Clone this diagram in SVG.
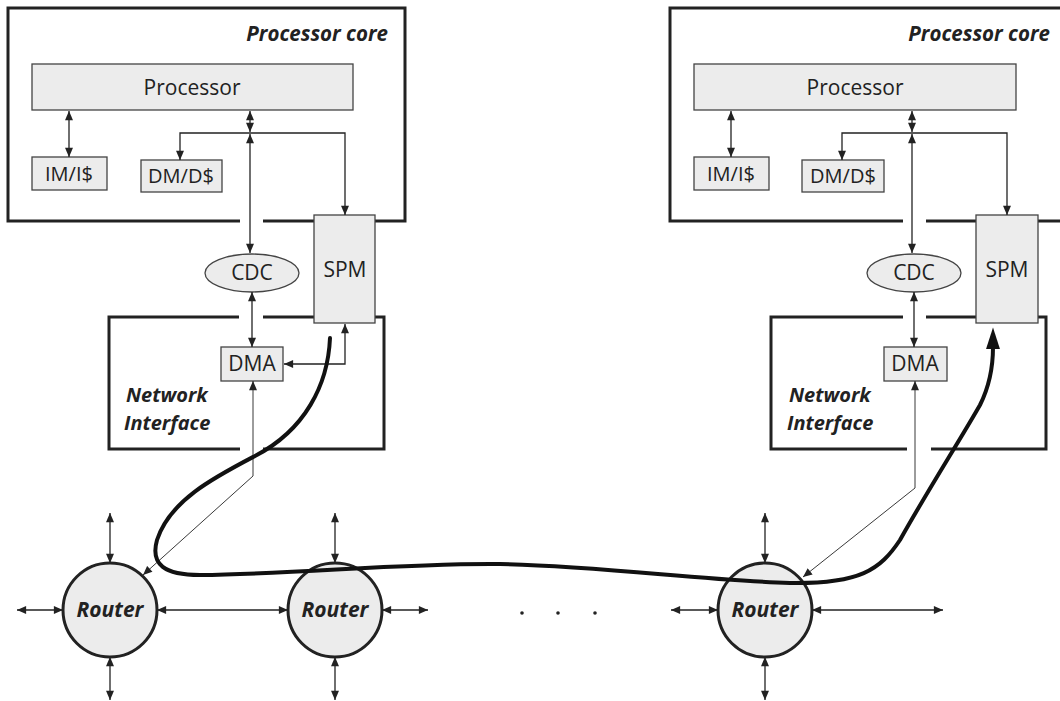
<svg xmlns="http://www.w3.org/2000/svg" width="1060" height="701" viewBox="0 0 1060 701">
<defs>
<style>
.frame{fill:none;stroke:#222;stroke-width:3}
.box{fill:#ececec;stroke:#444;stroke-width:1.3}
.router{fill:#ececec;stroke:#222;stroke-width:3}
.t{font-family:"Open Sans","Noto Sans",sans-serif;fill:#222}
.lbl{font-size:21px;text-anchor:middle}
.sm{font-size:20px}
.title{font-size:20.5px;font-weight:bold;font-style:italic}
.ni{font-size:20px;font-weight:bold;font-style:italic}
.rt{font-size:21px;font-weight:bold;font-style:italic;text-anchor:middle}
.ln{fill:none;stroke:#222;stroke-width:1.3;marker-start:url(#ah);marker-end:url(#ah)}
.thin{fill:none;stroke:#222;stroke-width:0.9;marker-start:url(#ah);marker-end:url(#ah)}
.path{fill:none;stroke:#111;stroke-width:4;stroke-linecap:round;marker-end:url(#big)}
</style>
<marker id="ah" markerUnits="userSpaceOnUse" markerWidth="10" markerHeight="8" refX="8" refY="3.5" orient="auto-start-reverse" viewBox="0 0 8 7">
<path d="M0,0 L8,3.5 L0,7 z" fill="#222"/>
</marker>
<marker id="big" markerUnits="userSpaceOnUse" markerWidth="22" markerHeight="14" refX="2" refY="6.5" orient="auto" viewBox="0 0 20 13">
<path d="M0,0 L20,6.5 L0,13 z" fill="#111"/>
</marker>
</defs>
<rect width="1060" height="701" fill="#fff"/>

<g id="core-left">
<path class="frame" d="M240,221 H8 V8 H405 V221 H263"/>
<text class="t title" x="388" y="41" text-anchor="end">Processor core</text>
</g>
<g id="core-right">
<path class="frame" d="M903,221 H670 V8 H1068 V221 H926"/>
<text class="t title" x="1050" y="41" text-anchor="end">Processor core</text>
</g>
<g id="ni-left">
<path class="frame" d="M239,317 H109 V449 H240 M263,449 H384 V317 H263"/>
<text class="t ni" x="126" y="402">Network</text>
<text class="t ni" x="124" y="430">Interface</text>
</g>
<g id="ni-right">
<path class="frame" d="M903,317 H771 V449 H907 M931,449 H1046 V317 H926"/>
<text class="t ni" x="789" y="402">Network</text>
<text class="t ni" x="787" y="430">Interface</text>
</g>

<g id="processor-left"><rect class="box" x="32" y="64" width="321" height="46"/><text class="t lbl" x="192" y="95">Processor</text></g>
<g id="im-left"><rect class="box" x="32" y="157" width="75" height="33"/><text class="t lbl sm" x="69" y="181">IM/I$</text></g>
<g id="dm-left"><rect class="box" x="141" y="160" width="81" height="32"/><text class="t lbl sm" x="181" y="183">DM/D$</text></g>
<g id="spm-left"><rect class="box" x="314" y="215" width="61" height="108"/><text class="t lbl" x="345" y="277">SPM</text></g>
<g id="cdc-left"><ellipse class="box" cx="252" cy="273" rx="47" ry="19"/><text class="t lbl" x="252" y="280">CDC</text></g>
<g id="dma-left"><rect class="box" x="221" y="347" width="62" height="34"/><text class="t lbl" x="252" y="371">DMA</text></g>

<g id="processor-right"><rect class="box" x="694" y="64" width="322" height="46"/><text class="t lbl" x="855" y="95">Processor</text></g>
<g id="im-right"><rect class="box" x="694" y="157" width="75" height="33"/><text class="t lbl sm" x="731" y="181">IM/I$</text></g>
<g id="dm-right"><rect class="box" x="802" y="160" width="82" height="32"/><text class="t lbl sm" x="843" y="183">DM/D$</text></g>
<g id="spm-right"><rect class="box" x="976" y="215" width="62" height="108"/><text class="t lbl" x="1007" y="277">SPM</text></g>
<g id="cdc-right"><ellipse class="box" cx="914" cy="273" rx="47" ry="19"/><text class="t lbl" x="914" y="280">CDC</text></g>
<g id="dma-right"><rect class="box" x="884" y="347" width="63" height="34"/><text class="t lbl" x="915" y="371">DMA</text></g>

<g id="router-1"><circle class="router" cx="110" cy="610" r="47"/><text class="t rt" x="110" y="617">Router</text></g>
<g id="router-2"><circle class="router" cx="335" cy="610" r="47"/><text class="t rt" x="335" y="617">Router</text></g>
<g id="router-3"><circle class="router" cx="765" cy="610" r="47"/><text class="t rt" x="765" y="617">Router</text></g>
<g id="dots" fill="#222"><circle cx="522" cy="613" r="1.8"/><circle cx="558" cy="613" r="1.8"/><circle cx="595" cy="613" r="1.8"/></g>

<g id="connectors">
<path class="ln" d="M69,111 V157"/>
<path class="ln" d="M250,111 V132"/>
<path class="ln" d="M250,134 V253"/>
<path class="ln" d="M180,160 V133 H345 V215"/>
<path class="ln" d="M252,292 V347"/>
<path class="ln" d="M345,324 V364 H284"/>
<path class="thin" d="M253,381 V476 L143,575"/>

<path class="ln" d="M731,111 V157"/>
<path class="ln" d="M912,111 V132"/>
<path class="ln" d="M912,134 V253"/>
<path class="ln" d="M842,160 V133 H1007 V215"/>
<path class="ln" d="M914,292 V347"/>
<path class="thin" d="M915,381 V488 L803,577"/>

<path class="ln" d="M110,513 V563"/>
<path class="ln" d="M110,657 V700"/>
<path class="ln" d="M17,610 H63"/>
<path class="ln" d="M157,610 H288"/>
<path class="ln" d="M335,513 V563"/>
<path class="ln" d="M335,657 V700"/>
<path class="ln" d="M382,610 H428"/>
<path class="ln" d="M765,513 V563"/>
<path class="ln" d="M765,657 V700"/>
<path class="ln" d="M671,610 H718"/>
<path class="ln" d="M812,610 H943"/>

<path class="path" d="M330,338 C328,385 305,430 255,456 C215,477 170,500 157,540 C150,565 165,575 200,575 C300,574 400,563 500,564 C600,566 700,580 790,583 C860,584 880,570 900,540 C925,495 960,440 980,405 C990,385 993,365 993,347"/>
</g>
</svg>
